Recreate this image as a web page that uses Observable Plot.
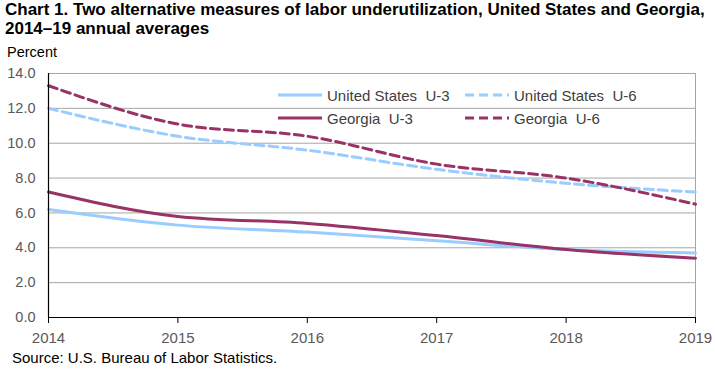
<!DOCTYPE html>
<html>
<head>
<meta charset="utf-8">
<script src="https://cdn.jsdelivr.net/npm/d3@7"></script>
<script src="https://cdn.jsdelivr.net/npm/@observablehq/plot@0.6"></script>
<style>
  html, body { margin: 0; padding: 0; background: #fff; }
  body { width: 715px; height: 369px; overflow: hidden; font-family: "Liberation Sans", Arial, sans-serif; }
  #wrap { position: relative; width: 715px; height: 369px; }
  #title { position: absolute; left: 5px; top: 1px; font-weight: bold; font-size: 17px; line-height: 18.5px; color: #000; white-space: nowrap; }
  #ylab { position: absolute; left: 7px; top: 44px; font-size: 14.5px; color: #000; }
  #chart { position: absolute; left: 0; top: 44px; }
  #source { position: absolute; left: 12px; top: 349px; font-size: 15px; color: #000; }
  #legend { position: absolute; left: 0; top: 0; width: 715px; height: 369px; pointer-events: none; }
  .li { position: absolute; display: flex; align-items: center; height: 18px; font-size: 15px; color: #404040; white-space: pre; }
  .li svg { margin-right: 5px; }
</style>
</head>
<body>
<div id="wrap">
  <div id="title">Chart 1. Two alternative measures of labor underutilization, United States and Georgia,<br>2014–19 annual averages</div>
  <div id="chart"></div>
  <div id="ylab">Percent</div>
  <div id="legend"></div>
  <div id="source">Source: U.S. Bureau of Labor Statistics.</div>
</div>
<script>
const years = [2014, 2015, 2016, 2017, 2018, 2019];
const usU3 = [6.2, 5.3, 4.9, 4.4, 3.9, 3.7];
const usU6 = [12.0, 10.4, 9.6, 8.5, 7.7, 7.2];
const gaU3 = [7.2, 5.8, 5.4, 4.7, 3.9, 3.4];
const gaU6 = [13.3, 11.1, 10.4, 8.8, 8.0, 6.5];
const seriesNames = ["United States  U-3", "United States  U-6", "Georgia  U-3", "Georgia  U-6"];
const yTicks = [0, 2, 4, 6, 8, 10, 12, 14];

const seriesValues = [usU3, usU6, gaU3, gaU6];
const seriesColors = ["#99ccff", "#99ccff", "#993366", "#993366"];
const seriesDash = [null, "9,5", null, "9,5"];

const data = [];
seriesNames.forEach((name, i) => {
  years.forEach((yr, j) => data.push({series: name, year: yr, value: seriesValues[i][j]}));
});

const lineMarks = seriesNames.map((name, i) =>
  Plot.line(data.filter(d => d.series === name), {
    x: "year", y: "value",
    stroke: seriesColors[i], strokeWidth: 3,
    strokeDasharray: seriesDash[i] || undefined,
    curve: "monotone-x"
  })
);

const chart = Plot.plot({
  width: 715,
  height: 306,
  marginLeft: 48,
  marginRight: 20,
  marginTop: 29,
  marginBottom: 33,
  style: {fontFamily: "'Liberation Sans', Arial, sans-serif", fontSize: "14px", color: "#595959", background: "transparent"},
  x: {domain: [2014, 2019], ticks: years, tickFormat: d => String(d)},
  y: {domain: [0, 14], ticks: yTicks, tickFormat: d => d.toFixed(1)},
  marks: [
    Plot.gridY(yTicks, {stroke: "#a6a6a6", strokeOpacity: 1, strokeWidth: 1}),
    Plot.ruleX([2019], {stroke: "#a6a6a6", strokeWidth: 1}),
    ...lineMarks,
    Plot.ruleY([0], {stroke: "#000", strokeWidth: 1.2}),
    Plot.ruleX([2014], {stroke: "#000", strokeWidth: 1.2}),
    Plot.axisX({ticks: years, tickFormat: d => String(d), tickSize: 6, tickPadding: 9, stroke: "#000", strokeOpacity: 1, fill: "#595959", fontSize: 15, label: null}),
    Plot.axisY({ticks: yTicks, tickFormat: d => d.toFixed(1), tickSize: 0, tickPadding: 13, fill: "#595959", fontSize: 14.5, label: null})
  ]
});
document.getElementById("chart").appendChild(chart);

// Legend (HTML overlay)
const legendPos = [[278, 95], [465, 95], [278, 118], [465, 118]];
const legend = document.getElementById("legend");
seriesNames.forEach((name, i) => {
  const div = document.createElement("div");
  div.className = "li";
  div.style.left = legendPos[i][0] + "px";
  div.style.top = (legendPos[i][1] - 9) + "px";
  const dash = seriesDash[i] ? `stroke-dasharray="${seriesDash[i]}"` : "";
  div.innerHTML = `<svg width="44" height="6"><line x1="0" x2="44" y1="3" y2="3" stroke="${seriesColors[i]}" stroke-width="3" ${dash}/></svg>${name}`;
  legend.appendChild(div);
});
</script>
</body>
</html>
